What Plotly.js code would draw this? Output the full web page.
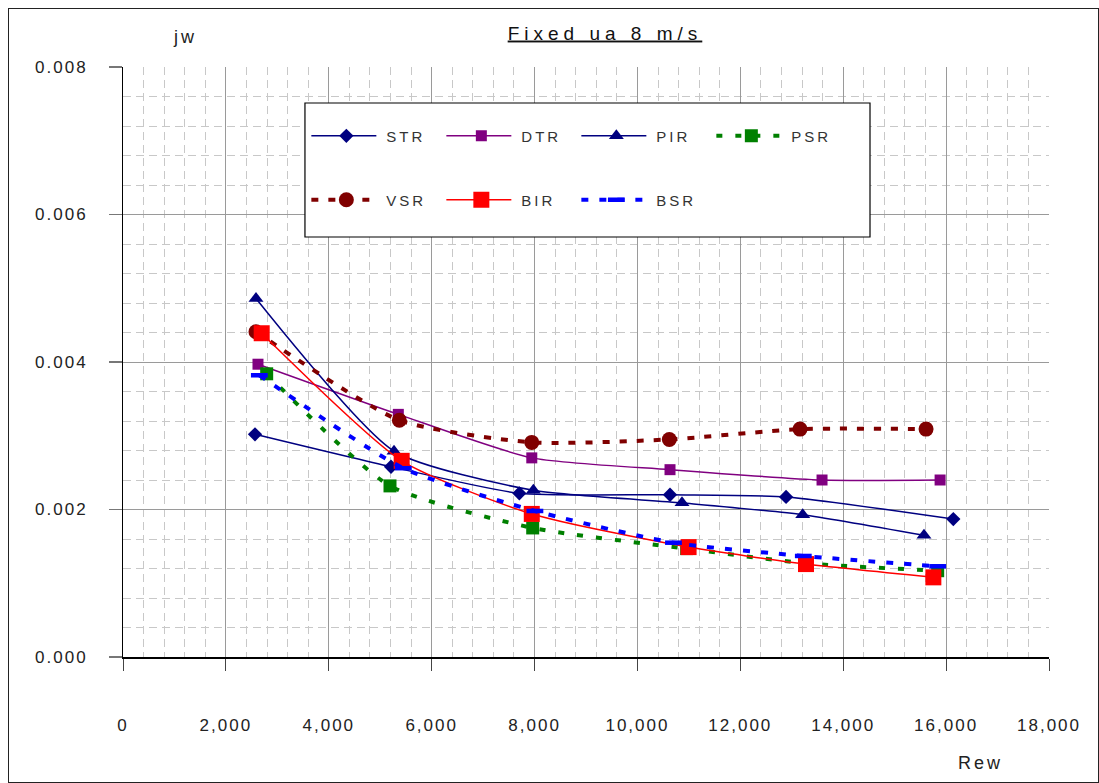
<!DOCTYPE html>
<html>
<head>
<meta charset="utf-8">
<script src="https://cdn.plot.ly/plotly-3.0.1.min.js"></script>
<style>
  html, body { margin: 0; padding: 0; background: #fff; }
  #wrap { position: relative; width: 1099px; height: 783px; }
  #chart { width: 1099px; height: 783px; }
  #frame { position: absolute; left: 8px; top: 8px; width: 1091px; height: 775px;
           border: 1.5px solid #222; box-sizing: border-box; pointer-events: none; }
  .xtick text, .ytick text { letter-spacing: 2px; }
  .gtitle { letter-spacing: 5px; }
  .annotation-text { letter-spacing: 3px; }
  text.legendtext, text.legend2text { letter-spacing: 3px; }
</style>
</head>
<body>
<div id="wrap">
  <div id="chart"></div>
  <div id="frame"></div>
</div>
<script>
// Reynolds number (Rew) and jw values
const strX = [2566, 5210, 7704, 10633, 12889, 16140];
const strY = [0.00302, 0.00258, 0.00222, 0.00220, 0.00217, 0.00187];
const dtrX = [2624, 5352, 7946, 10633, 13588, 15883];
const dtrY = [0.00397, 0.00329, 0.00270, 0.00254, 0.00240, 0.00240];
const pirX = [2585, 5268, 7977, 10866, 13212, 15570];
const pirY = [0.00486, 0.00279, 0.00226, 0.00209, 0.00193, 0.00165];
const psrX = [2793, 5190, 7964, 10957, 13270, 15836];
const psrY = [0.00384, 0.00232, 0.00175, 0.00147, 0.00127, 0.00117];
const vsrX = [2585, 5372, 7946, 10620, 13160, 15610];
const vsrY = [0.00441, 0.00321, 0.00291, 0.00295, 0.00309, 0.00309];
const birX = [2696, 5417, 7946, 10994, 13276, 15752];
const birY = [0.00439, 0.00266, 0.00194, 0.00149, 0.00126, 0.00108];
const bsrX = [2650, 5450, 8007, 10700, 13224, 15836];
const bsrY = [0.00382, 0.00256, 0.00198, 0.00155, 0.00137, 0.00123];

const xTickVals = [0, 2000, 4000, 6000, 8000, 10000, 12000, 14000, 16000, 18000];
const yTickVals = [0, 0.002, 0.004, 0.006, 0.008];

const FONT = 'Liberation Sans, Arial, sans-serif';

function tr(name, x, y, color, lineW, dash, symbol, size, legend, extra) {
  const t = {
    type: 'scatter', mode: 'lines+markers', name: name, x: x, y: y,
    line: { color: color, width: lineW, dash: dash, shape: 'spline', smoothing: 0.6 },
    marker: { symbol: symbol, size: size, color: color, line: { width: 0 } },
    legend: legend
  };
  if (extra) extra(t);
  return t;
}

const data = [
  tr('STR', strX, strY, '#000080', 1.5, 'solid', 'diamond', 11, 'legend'),
  tr('DTR', dtrX, dtrY, '#800080', 1.5, 'solid', 'square', 11, 'legend'),
  tr('PIR', pirX, pirY, '#000080', 1.5, 'solid', 'triangle-up', 13, 'legend'),
  tr('PSR', psrX, psrY, '#008000', 4, '6px,13px', 'square', 13, 'legend'),
  tr('VSR', vsrX, vsrY, '#800000', 4, '7px,10px', 'circle', 15, 'legend2'),
  tr('BIR', birX, birY, '#FF0000', 1.5, 'solid', 'square', 16, 'legend2'),
  tr('BSR', bsrX, bsrY, '#0000FF', 4, '7px,11px', 'line-ew', 12, 'legend2',
     t => { t.marker.line = { width: 4.5, color: '#0000FF' }; })
];

const legendCommon = {
  orientation: 'h', xanchor: 'left', yanchor: 'middle',
  bgcolor: 'rgba(0,0,0,0)', borderwidth: 0,
  entrywidth: 50, entrywidthmode: 'pixels', itemwidth: 70,
  font: { family: FONT, size: 15, color: '#333' }, traceorder: 'normal',
  itemclick: false, itemdoubleclick: false
};

const layout = {
  width: 1099, height: 783,
  margin: { l: 123, r: 50, t: 67, b: 126 },
  paper_bgcolor: '#ffffff', plot_bgcolor: '#ffffff',
  font: { family: FONT, size: 17, color: '#222' },
  showlegend: true,
  title: {
    text: 'Fixed ua 8 m/s',
    font: { family: FONT, size: 19, color: '#111', lineposition: 'under' },
    xref: 'paper', x: 0.5205, xanchor: 'center',
    yref: 'container', y: 0.958, yanchor: 'middle'
  },
  xaxis: {
    range: [0, 18000], tickvals: xTickVals, tickformat: ',d',
    showgrid: true, gridcolor: '#9a9a9a', gridwidth: 1,
    minor: { dtick: 400, showgrid: true, gridcolor: '#c8c8c8', griddash: '8px,5px', gridwidth: 1, ticks: '' },
    showline: true, linecolor: '#000', linewidth: 2,
    ticks: 'outside', ticklen: 12, tickcolor: '#444', tickwidth: 1,
    ticklabelstandoff: 40, zeroline: false,
    tickfont: { family: FONT, size: 17, color: '#222' }
  },
  yaxis: {
    range: [0, 0.008], tickvals: yTickVals, tickformat: '.3f',
    showgrid: true, gridcolor: '#9a9a9a', gridwidth: 1,
    minor: { dtick: 0.0004, showgrid: true, gridcolor: '#c8c8c8', griddash: '8px,5px', gridwidth: 1, ticks: '' },
    showline: true, linecolor: '#000', linewidth: 1,
    ticks: 'outside', ticklen: 13, tickcolor: '#777', tickwidth: 1.5,
    ticklabelstandoff: 18, zeroline: false,
    tickfont: { family: FONT, size: 17, color: '#222' }
  },
  legend: Object.assign({}, legendCommon, { x: 0.198, y: 0.883 }),
  legend2: Object.assign({}, legendCommon, { x: 0.198, y: 0.7746 }),
  shapes: [{
    type: 'rect', xref: 'paper', yref: 'paper', layer: 'above',
    x0: 0.1965, x1: 0.8067, y0: 0.7119, y1: 0.939,
    line: { color: '#000', width: 1.2 }, fillcolor: '#ffffff'
  }],
  annotations: [
    { text: 'jw', xref: 'paper', yref: 'paper', x: 0.067, y: 1.0508,
      showarrow: false, xanchor: 'center', yanchor: 'middle',
      font: { family: FONT, size: 18, color: '#222' } },
    { text: 'Rew', xref: 'paper', yref: 'paper', x: 0.9255, y: -0.1797,
      showarrow: false, xanchor: 'center', yanchor: 'middle',
      font: { family: FONT, size: 18, color: '#222' } }
  ]
};

function fixLegend(gd) {
  gd.querySelectorAll('.legendlines path, .legend2lines path').forEach(p => p.setAttribute('d', 'M5,0h65'));
  gd.querySelectorAll('.legendpoints path, .legend2points path').forEach(p => {
    const tf = p.getAttribute('transform') || '';
    p.setAttribute('transform', tf.replace(/translate\(\s*20\s*,/, 'translate(38,'));
  });
}

const gd = document.getElementById('chart');
Plotly.newPlot(gd, data, layout, { staticPlot: true, displayModeBar: false }).then(() => {
  fixLegend(gd);
  gd.on && gd.on('plotly_afterplot', () => fixLegend(gd));
});
</script>
</body>
</html>
